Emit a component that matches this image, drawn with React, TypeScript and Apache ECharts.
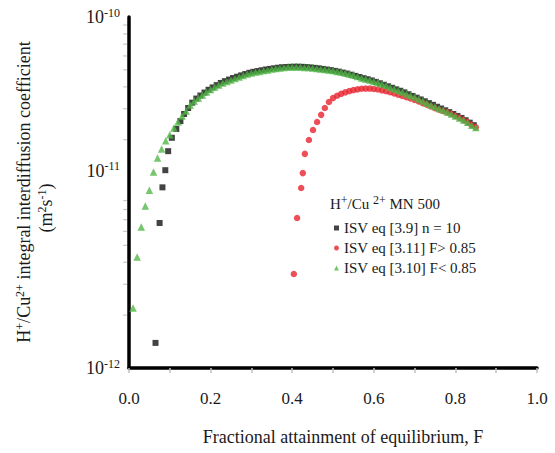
import React, { useEffect, useRef } from "react";
import * as echarts from "echarts";

// ---- data ----
const greenF = [
  0.01, 0.02, 0.03, 0.04, 0.05, 0.06, 0.07, 0.08, 0.09, 0.1,
  0.11, 0.12, 0.13, 0.14, 0.15, 0.16, 0.17, 0.18, 0.19, 0.2,
  0.21, 0.22, 0.23, 0.24, 0.25, 0.26, 0.27, 0.28, 0.29, 0.3,
  0.31, 0.32, 0.33, 0.34, 0.35, 0.36, 0.37, 0.38, 0.39, 0.4,
  0.41, 0.42, 0.43, 0.44, 0.45, 0.46, 0.47, 0.48, 0.49, 0.5,
  0.51, 0.52, 0.53, 0.54, 0.55, 0.56, 0.57, 0.58, 0.59, 0.6,
  0.61, 0.62, 0.63, 0.64, 0.65, 0.66, 0.67, 0.68, 0.69, 0.7,
  0.71, 0.72, 0.73, 0.74, 0.75, 0.76, 0.77, 0.78, 0.79, 0.8,
  0.81, 0.82, 0.83, 0.84, 0.85,
];
const greenD = [
  2.2e-12, 4.29e-12, 6.36e-12, 8.38e-12, 1.03e-11, 1.31e-11, 1.57e-11, 1.77e-11, 1.97e-11, 2.13e-11,
  2.33e-11, 2.52e-11, 2.73e-11, 2.91e-11, 3.15e-11, 3.32e-11, 3.45e-11, 3.59e-11, 3.74e-11, 3.86e-11,
  3.99e-11, 4.1e-11, 4.21e-11, 4.29e-11, 4.38e-11, 4.46e-11, 4.55e-11, 4.64e-11, 4.73e-11, 4.8e-11,
  4.86e-11, 4.89e-11, 4.95e-11, 4.99e-11, 5.05e-11, 5.09e-11, 5.12e-11, 5.16e-11, 5.19e-11, 5.19e-11,
  5.19e-11, 5.19e-11, 5.16e-11, 5.16e-11, 5.12e-11, 5.09e-11, 5.05e-11, 5.02e-11, 4.99e-11, 4.95e-11,
  4.89e-11, 4.86e-11, 4.8e-11, 4.73e-11, 4.67e-11, 4.58e-11, 4.49e-11, 4.43e-11, 4.38e-11, 4.29e-11,
  4.24e-11, 4.15e-11, 4.07e-11, 3.97e-11, 3.89e-11, 3.81e-11, 3.74e-11, 3.64e-11, 3.57e-11, 3.5e-11,
  3.41e-11, 3.32e-11, 3.24e-11, 3.15e-11, 3.09e-11, 3.01e-11, 2.95e-11, 2.88e-11, 2.8e-11, 2.73e-11,
  2.66e-11, 2.59e-11, 2.51e-11, 2.42e-11, 2.35e-11,
];

const blackF = [
  0.065, 0.075, 0.082, 0.089, 0.096, 0.105, 0.116, 0.126, 0.135, 0.145,
  0.155, 0.165, 0.175, 0.185, 0.195, 0.205, 0.215, 0.225, 0.235, 0.245,
  0.255, 0.265, 0.275, 0.285, 0.295, 0.305, 0.315, 0.325, 0.335, 0.345,
  0.355, 0.365, 0.375, 0.385, 0.395, 0.405, 0.415, 0.425, 0.435, 0.445,
  0.455, 0.465, 0.475, 0.485, 0.495, 0.505, 0.515, 0.525, 0.535, 0.545,
  0.555, 0.565, 0.575, 0.585, 0.595, 0.605, 0.615, 0.625, 0.635, 0.645,
  0.655, 0.665, 0.675, 0.685, 0.695, 0.705, 0.715, 0.725, 0.735, 0.745,
  0.755, 0.765, 0.775, 0.785, 0.795, 0.805, 0.815, 0.825, 0.835, 0.845,
];
const blackD = [
  1.39e-12, 6.7e-12, 1.07e-11, 1.34e-11, 1.72e-11, 2.05e-11, 2.3e-11, 2.55e-11, 2.8e-11, 3.03e-11,
  3.25e-11, 3.43e-11, 3.57e-11, 3.71e-11, 3.85e-11, 3.97e-11, 4.09e-11, 4.21e-11, 4.31e-11, 4.4e-11,
  4.49e-11, 4.57e-11, 4.65e-11, 4.73e-11, 4.81e-11, 4.87e-11, 4.92e-11, 4.97e-11, 5.02e-11, 5.06e-11,
  5.1e-11, 5.14e-11, 5.17e-11, 5.19e-11, 5.2e-11, 5.21e-11, 5.21e-11, 5.2e-11, 5.18e-11, 5.16e-11,
  5.13e-11, 5.1e-11, 5.06e-11, 5.02e-11, 4.98e-11, 4.93e-11, 4.88e-11, 4.82e-11, 4.76e-11, 4.69e-11,
  4.62e-11, 4.55e-11, 4.48e-11, 4.42e-11, 4.35e-11, 4.27e-11, 4.19e-11, 4.11e-11, 4.03e-11, 3.95e-11,
  3.87e-11, 3.8e-11, 3.72e-11, 3.63e-11, 3.55e-11, 3.47e-11, 3.39e-11, 3.31e-11, 3.23e-11, 3.16e-11,
  3.08e-11, 3.01e-11, 2.94e-11, 2.87e-11, 2.8e-11, 2.73e-11, 2.66e-11, 2.58e-11, 2.5e-11, 2.42e-11,
];

const redF = [
  0.404, 0.412, 0.422, 0.426, 0.431, 0.441, 0.451, 0.461, 0.471, 0.48,
  0.49, 0.5, 0.51, 0.52, 0.53, 0.54, 0.55, 0.56, 0.57, 0.58,
  0.59, 0.6, 0.61, 0.62, 0.63, 0.64, 0.65, 0.66, 0.67, 0.68,
  0.69, 0.7, 0.71, 0.72, 0.73, 0.74, 0.75, 0.76, 0.77, 0.78,
  0.79, 0.8, 0.81, 0.82, 0.83, 0.84, 0.85,
];
const redD = [
  3.43e-12, 7.16e-12, 1.06e-11, 1.29e-11, 1.66e-11, 1.99e-11, 2.27e-11, 2.52e-11, 2.77e-11, 3.03e-11,
  3.28e-11, 3.45e-11, 3.56e-11, 3.65e-11, 3.72e-11, 3.78e-11, 3.83e-11, 3.87e-11, 3.9e-11, 3.91e-11,
  3.91e-11, 3.89e-11, 3.86e-11, 3.82e-11, 3.78e-11, 3.73e-11, 3.67e-11, 3.61e-11, 3.55e-11, 3.49e-11,
  3.43e-11, 3.37e-11, 3.3e-11, 3.23e-11, 3.16e-11, 3.09e-11, 3.02e-11, 2.96e-11, 2.91e-11, 2.86e-11,
  2.8e-11, 2.73e-11, 2.66e-11, 2.59e-11, 2.51e-11, 2.42e-11, 2.35e-11,
];

const seriesNames = [
  "ISV eq [3.9] n = 10",
  "ISV eq [3.11] F> 0.85",
  "ISV eq [3.10] F< 0.85",
];
const yMinorTicks = [
  2e-12, 3e-12, 4e-12, 5e-12, 6e-12, 7e-12, 8e-12, 9e-12,
  2e-11, 3e-11, 4e-11, 5e-11, 6e-11, 7e-11, 8e-11, 9e-11,
];

const SERIF = "'Liberation Serif', 'Times New Roman', serif";
const BLACK = "#141414";
const RED = "#e8232e";
const GREEN = "#52b848";

const zip = (xs: number[], ys: number[]) => xs.map((x, i) => [x, ys[i]]);

export default function App() {
  const ref = useRef<HTMLDivElement>(null);
  useEffect(() => {
    if (!ref.current) return;
    const chart = echarts.init(ref.current, undefined, { renderer: "svg" });
    const supRich = {
      n: { fontSize: 18, fontFamily: SERIF, fill: "#1a1a1a", color: "#1a1a1a" },
      p: { fontSize: 12, fontFamily: SERIF, fill: "#1a1a1a", color: "#1a1a1a", padding: [0, 0, 9, 0] },
    };
    const legRich = {
      n: { fontSize: 15, fontFamily: SERIF, fill: "#1a1a1a", color: "#1a1a1a" },
      p: { fontSize: 12, fontFamily: SERIF, fill: "#1a1a1a", color: "#1a1a1a", padding: [0, 0, 8, 0] },
    };
    chart.setOption({
      animation: false,
      backgroundColor: "#ffffff",
      grid: { left: 129, top: 17, width: 408, height: 351, containLabel: false, outerBoundsMode: "none" },
      xAxis: {
        type: "value",
        min: 0,
        max: 1,
        interval: 0.1,
        splitLine: { show: false },
        axisLine: { show: true, onZero: false, lineStyle: { color: "#000", width: 3.5 } },
        axisTick: { show: true, length: 5, lineStyle: { color: "#c0c0c0", width: 1.5 } },
        axisLabel: {
          margin: 22,
          fontSize: 17,
          fontFamily: SERIF,
          color: "#1a1a1a",
          formatter: (v: number) => {
            const k = Math.round(v * 10);
            return k % 2 === 0 ? (k / 10).toFixed(1) : "";
          },
        },
        name: "Fractional attainment of equilibrium, F",
        nameLocation: "middle",
        nameGap: 60,
        nameTextStyle: { fontSize: 18, fontFamily: SERIF, color: "#1a1a1a", padding: [0, 0, 0, 20] },
      },
      yAxis: {
        type: "log",
        logBase: 10,
        min: 1e-12,
        max: 1e-10,
        splitLine: { show: false },
        axisLine: { show: true, lineStyle: { color: "#000", width: 3.5 } },
        axisTick: { show: false },
        axisLabel: {
          margin: 9,
          formatter: (v: number) => {
            const e = Math.round(Math.log10(v));
            if (e === -11) return `{b|10}{s|${e}}\n{g| }`;
            return `{b|10}{s|${e}}`;
          },
          rich: {
            b: { fontSize: 18, fontFamily: SERIF, color: "#1a1a1a", lineHeight: 20 },
            s: { fontSize: 12, fontFamily: SERIF, color: "#1a1a1a", padding: [0, 0, 9, 0] },
            g: { fontSize: 2, lineHeight: 44 },
          },
        },
      },
      legend: {
        orient: "vertical",
        left: 329,
        top: 215,
        itemGap: 4,
        itemWidth: 5,
        itemHeight: 5,
        textStyle: { fontSize: 15, fontFamily: SERIF, color: "#1a1a1a", lineHeight: 16 },
        data: [
          { name: seriesNames[0], icon: "rect" },
          { name: seriesNames[1], icon: "circle" },
          { name: seriesNames[2], icon: "triangle" },
        ],
      },
      graphic: [
        {
          type: "text",
          x: 24,
          y: 192,
          rotation: Math.PI / 2,
          style: {
            text: "{n|H}{p|+}{n|/Cu}{p|2+}{n| integral interdiffusion coefficient}",
            rich: supRich,
            fontFamily: SERIF,
            align: "center",
            verticalAlign: "middle",
          },
        },
        {
          type: "text",
          x: 46,
          y: 208,
          rotation: Math.PI / 2,
          style: {
            text: "{n|(m}{p|2}{n|s}{p|-1}{n|)}",
            rich: supRich,
            fontFamily: SERIF,
            align: "center",
            verticalAlign: "middle",
          },
        },
        {
          type: "text",
          x: 330,
          y: 204,
          style: {
            text: "{n|H}{p|+}{n|/Cu }{p|2+}{n| MN 500}",
            rich: legRich,
            fontFamily: SERIF,
            align: "left",
            verticalAlign: "middle",
          },
        },
      ],
      series: [
        {
          name: "minorTicks",
          type: "scatter",
          silent: true,
          clip: false,
          symbol: "rect",
          symbolSize: [4, 1.2],
          symbolOffset: [-4, 0],
          itemStyle: { color: "#bdbdbd" },
          data: yMinorTicks.map((v) => [0, v]),
          z: 1,
        },
        {
          name: seriesNames[0],
          type: "scatter",
          symbol: "rect",
          symbolSize: 6,
          itemStyle: { color: BLACK },
          data: zip(blackF, blackD),
          z: 2,
        },
        {
          name: seriesNames[1],
          type: "scatter",
          symbol: "circle",
          symbolSize: 6.5,
          itemStyle: { color: RED },
          data: zip(redF, redD),
          z: 3,
        },
        {
          name: seriesNames[2],
          type: "scatter",
          symbol: "triangle",
          symbolSize: 7.5,
          itemStyle: { color: GREEN },
          data: zip(greenF, greenD),
          z: 4,
        },
      ],
    });
    return () => chart.dispose();
  }, []);
  return (
    <div
      ref={ref}
      style={{ position: "fixed", left: 0, top: 0, width: 555, height: 453, background: "#fff" }}
    />
  );
}
